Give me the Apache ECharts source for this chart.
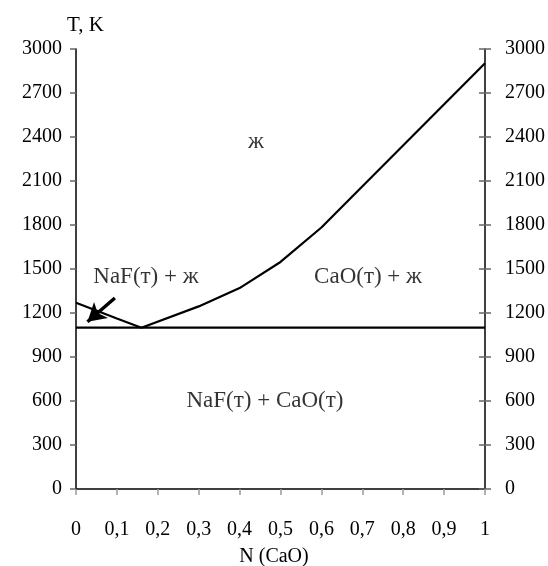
<!DOCTYPE html>
<html>
<head>
<meta charset="utf-8">
<script src="https://cdn.jsdelivr.net/npm/echarts@6/dist/echarts.min.js"></script>
<style>html,body{margin:0;padding:0;background:#fff}#c{width:548px;height:566px}</style>
</head>
<body>
<div id="c"></div>
<script>
// Data
var naFLiquidusN = [0, 0.1, 0.16];
var naFLiquidusT = [1270, 1162, 1100];
var caOLiquidusN = [0.16, 0.3, 0.4, 0.5, 0.6, 1.0];
var caOLiquidusT = [1100, 1245, 1370, 1548, 1783, 2903];
var eutecticN = [0, 1];
var eutecticT = [1100, 1100];
var yTicks = [0, 300, 600, 900, 1200, 1500, 1800, 2100, 2400, 2700, 3000];
var xTicks = [0, 0.1, 0.2, 0.3, 0.4, 0.5, 0.6, 0.7, 0.8, 0.9, 1];
var regionLabels = ['ж', 'NaF(т) + ж', 'CaO(т) + ж', 'NaF(т) + CaO(т)'];
var regionLabelN = [0.44, 0.171, 0.714, 0.462];
var regionLabelT = [2368, 1449, 1449, 603];
var arrowFrom = [0.095, 1302];
var arrowTo = [0.028, 1140];

var font = 'Liberation Serif, Times New Roman, serif';
function pairs(xs, ys) { return xs.map(function (x, i) { return [x, ys[i]]; }); }

var chart = echarts.init(document.getElementById('c'), null, {renderer: 'canvas'});
var yBase = {
  type: 'value', min: yTicks[0], max: yTicks[yTicks.length - 1], interval: yTicks[1] - yTicks[0],
  splitLine: {show: false}
};
var yFmt = function (v) { return String(v); };
chart.setOption({
  animation: false,
  backgroundColor: '#fff',
  grid: {left: 76, right: 63, top: 49, bottom: 77, containLabel: false},
  xAxis: {
    type: 'value', min: xTicks[0], max: xTicks[xTicks.length - 1], interval: 0.1,
    splitLine: {show: false},
    axisLine: {onZero: false, lineStyle: {color: '#000', width: 1.5}},
    axisTick: {show: true, length: 6, lineStyle: {color: '#999', width: 1.5}},
    axisLabel: {margin: 31, fontFamily: font, fontSize: 20, color: '#000',
      formatter: function (v) { return String(+v.toFixed(1)).replace('.', ','); }}
  },
  yAxis: [
    Object.assign({}, yBase, {
      position: 'left',
      axisLine: {show: true, lineStyle: {color: '#000', width: 1.5}},
      axisTick: {show: true, length: 6, lineStyle: {color: '#666', width: 1.5}},
      axisLabel: {margin: 14, fontFamily: font, fontSize: 20, color: '#000', formatter: yFmt}
    }),
    Object.assign({}, yBase, {
      position: 'right',
      axisLine: {show: true, lineStyle: {color: '#000', width: 1.5}},
      axisTick: {show: true, length: 6, lineStyle: {color: '#666', width: 1.5}},
      axisLabel: {margin: 20, fontFamily: font, fontSize: 20, color: '#000', formatter: yFmt}
    }),
    Object.assign({}, yBase, {
      position: 'right',
      axisLine: {show: false},
      axisTick: {show: true, inside: true, length: 6, lineStyle: {color: '#666', width: 1.5}},
      axisLabel: {show: false}
    })
  ],
  graphic: [
    {type: 'text', left: 67, top: 15, style: {text: 'T, K', font: '21px ' + font, fill: '#000'}},
    {type: 'text', left: 'center', top: 547, style: {text: 'N (CaO)', font: '20px ' + font, fill: '#000'}}
  ],
  series: [
    {type: 'line', data: pairs(naFLiquidusN, naFLiquidusT), symbol: 'none', lineStyle: {color: '#000', width: 2.2}, z: 3},
    {type: 'line', data: pairs(caOLiquidusN, caOLiquidusT), symbol: 'none', lineStyle: {color: '#000', width: 2.2}, z: 3},
    {type: 'line', data: pairs(eutecticN, eutecticT), symbol: 'none', lineStyle: {color: '#000', width: 2.2}, z: 3,
      markLine: {
        silent: true, symbol: ['none', 'arrow'], symbolSize: [16, 18], label: {show: false},
        lineStyle: {color: '#000', width: 3.5, type: 'solid'},
        data: [[{coord: arrowFrom}, {coord: arrowTo}]]
      }
    },
    {type: 'scatter', symbolSize: 0, silent: true,
      data: regionLabels.map(function (t, i) { return {value: [regionLabelN[i], regionLabelT[i]], name: t}; }),
      label: {show: true, position: 'inside', formatter: '{b}', fontFamily: font, fontSize: 23, color: '#000'}
    }
  ]
});
</script>
</body>
</html>
